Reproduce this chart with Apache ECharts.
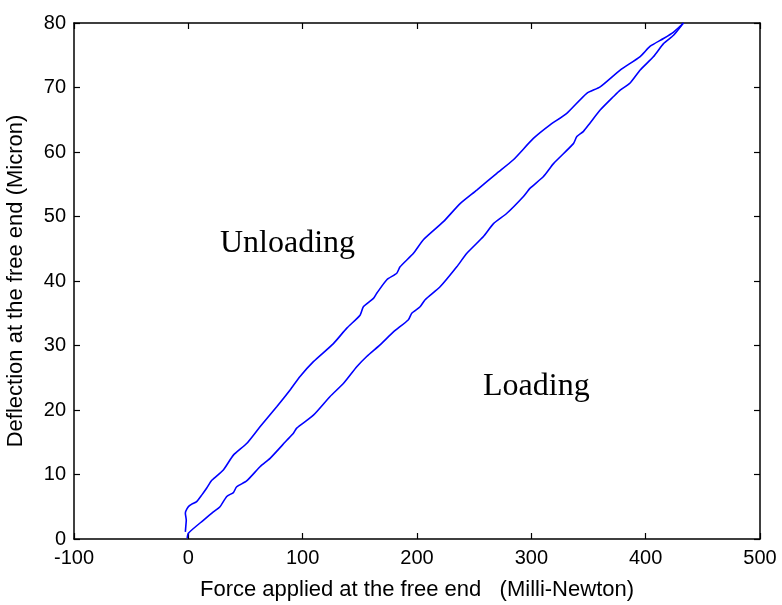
<!DOCTYPE html>
<html>
<head>
<meta charset="utf-8">
<script src="https://cdn.jsdelivr.net/npm/echarts@6/dist/echarts.min.js"></script>
<style>
  html, body { margin: 0; padding: 0; background: #fff; }
  #chart { width: 782px; height: 605px; }
</style>
</head>
<body>
<div id="chart"></div>
<script>
// Loading branch: force (mN) and deflection (micron)
const loadingForce = [-1.0, 0.0, 13.1, 21.9, 27.7, 33.6, 39.4, 42.3, 51.0, 62.7, 71.5, 86.1, 91.9, 94.8,
  109.4, 124.0, 135.6, 147.3, 156.0, 167.7, 179.4, 192.5, 195.4, 202.7, 207.1, 220.2, 234.8, 243.6,
  258.1, 266.9, 278.6, 293.1, 299.0, 310.6, 319.4, 336.8, 339.8, 345.6, 351.4, 360.2, 371.9, 377.7,
  386.4, 395.2, 406.9, 415.6, 424.4, 433.0];
const loadingDefl = [0.1, 0.9, 2.9, 4.2, 5.0, 6.6, 7.2, 8.1, 9.0, 11.2, 12.5, 15.3, 16.4, 17.2,
  19.2, 22.1, 24.1, 26.7, 28.3, 30.1, 32.1, 34.0, 35.0, 36.0, 37.1, 39.1, 42.2, 44.3,
  46.9, 48.9, 50.5, 53.1, 54.4, 56.2, 58.2, 61.3, 62.4, 63.2, 64.5, 66.5, 68.6, 69.6,
  70.7, 72.7, 74.8, 76.8, 78.1, 80.0];

// Unloading branch, from peak load back to zero
const unloadingForce = [433.1, 424.4, 415.6, 404.0, 395.2, 377.7, 360.2, 348.5, 331.0, 316.4, 301.8,
  284.3, 269.8, 252.3, 237.7, 223.1, 205.6, 196.9, 185.2, 182.3, 173.6, 164.8, 161.9, 153.1, 150.2,
  138.6, 126.9, 109.4, 97.7, 89.0, 77.3, 62.7, 51.0, 39.4, 30.6, 20.5, 16.1, 11.7, 7.3, 3.0, 0.0,
  -2.6, -1.8, -2.2, -2.6];
const unloadingDefl = [80.0, 78.6, 77.6, 76.4, 74.8, 72.7, 70.1, 69.1, 66.0, 64.2, 62.1,
  58.8, 56.7, 54.1, 52.0, 49.2, 46.4, 44.3, 42.2, 41.2, 40.2, 38.1, 37.3, 36.0, 34.7,
  32.7, 30.3, 27.5, 25.2, 23.1, 20.5, 17.4, 14.8, 13.0, 10.7, 9.1, 7.9, 6.8, 5.8, 5.4, 5.0,
  4.0, 2.9, 2.0, 1.1];

const xTicks = { min: -100, max: 500, step: 100 };
const yTicks = { min: 0, max: 80, step: 10 };

const xTitle = 'Force applied at the free end   (Milli-Newton)';
const yTitle = 'Deflection at the free end (Micron)';

const pairs = (xs, ys) => xs.map((x, i) => [x, ys[i]]);

const sans = '"Liberation Sans", Arial, Helvetica, sans-serif';
const serif = '"Liberation Serif", "Times New Roman", serif';
const axisLine = { show: true, onZero: false, lineStyle: { color: '#000', width: 1.5 } };
const tickIn = { show: true, inside: true, length: 6, lineStyle: { color: '#000', width: 1.2 } };

const chart = echarts.init(document.getElementById('chart'), null, { renderer: 'canvas' });
chart.setOption({
  animation: false,
  backgroundColor: '#fff',
  grid: { left: 74, right: 22, top: 23, bottom: 66, containLabel: false, outerBoundsMode: 'none' },
  xAxis: [
    {
      type: 'value', position: 'bottom',
      min: xTicks.min, max: xTicks.max, interval: xTicks.step,
      axisLine, axisTick: tickIn, splitLine: { show: false },
      axisLabel: { color: '#000', fontFamily: sans, fontSize: 20, margin: 9 },
      name: xTitle, nameLocation: 'middle', nameGap: 40,
      nameTextStyle: { color: '#000', fontFamily: sans, fontSize: 22 }
    },
    {
      type: 'value', position: 'top',
      min: xTicks.min, max: xTicks.max, interval: xTicks.step,
      axisLine, axisTick: tickIn, splitLine: { show: false },
      axisLabel: { show: false }
    }
  ],
  yAxis: [
    {
      type: 'value', position: 'left',
      min: yTicks.min, max: yTicks.max, interval: yTicks.step,
      axisLine, axisTick: tickIn, splitLine: { show: false },
      axisLabel: { color: '#000', fontFamily: sans, fontSize: 20, margin: 8 },
      name: yTitle, nameLocation: 'middle', nameGap: 47,
      nameTextStyle: { color: '#000', fontFamily: sans, fontSize: 22 }
    },
    {
      type: 'value', position: 'right',
      min: yTicks.min, max: yTicks.max, interval: yTicks.step,
      axisLine, axisTick: tickIn, splitLine: { show: false },
      axisLabel: { show: false }
    }
  ],
  series: [
    {
      name: 'Loading', type: 'line', xAxisIndex: 0, yAxisIndex: 0,
      data: pairs(loadingForce, loadingDefl),
      showSymbol: false, smooth: 0.2,
      lineStyle: { color: '#0000ff', width: 1.6 }
    },
    {
      name: 'Unloading', type: 'line', xAxisIndex: 0, yAxisIndex: 0,
      data: pairs(unloadingForce, unloadingDefl),
      showSymbol: false, smooth: 0.2,
      lineStyle: { color: '#0000ff', width: 1.6 }
    }
  ],
  graphic: [
    { type: 'text', left: 220, top: 228,
      style: { text: 'Unloading', font: '32px ' + serif, fill: '#000' } },
    { type: 'text', left: 483, top: 371,
      style: { text: 'Loading', font: '32px ' + serif, fill: '#000' } }
  ]
});
</script>
</body>
</html>
